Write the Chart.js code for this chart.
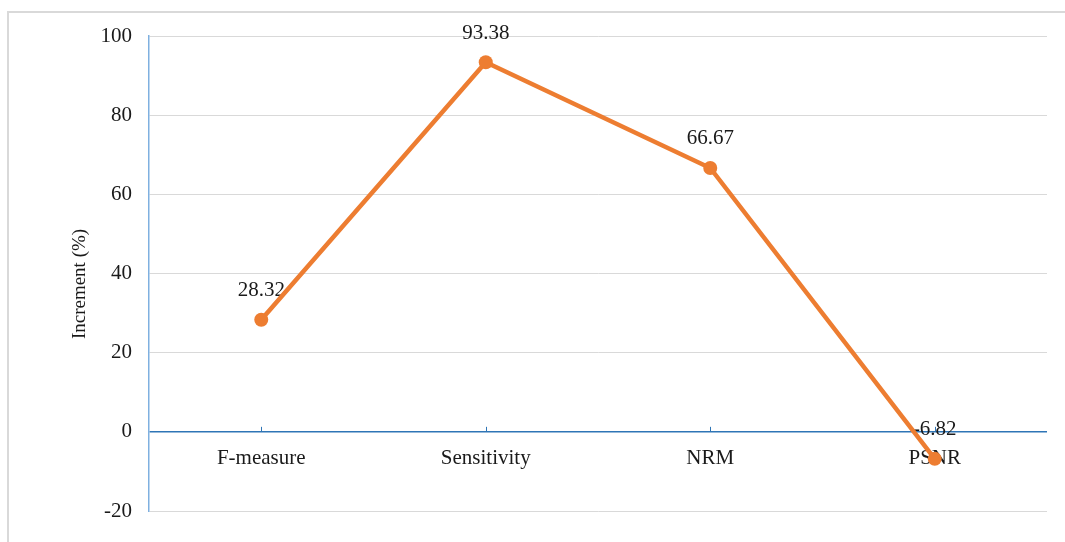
<!DOCTYPE html>
<html>
<head>
<meta charset="utf-8">
<script src="https://cdn.jsdelivr.net/npm/chart.js@4"></script>
<style>
  html, body { margin: 0; padding: 0; background: #ffffff; }
  #wrap { position: relative; width: 1065px; height: 542px; }
</style>
</head>
<body>
<div id="wrap"><canvas id="chart" width="1065" height="542"></canvas></div>
<script>
// Percentage increment per metric
const categories = ['F-measure', 'Sensitivity', 'NRM', 'PSNR'];
const increments = [28.32, 93.38, 66.67, -6.82];
const yMin = -20;
const yMax = 100;
const yStep = 20;
const yTitle = 'Increment (%)';

const FONT = '"Liberation Serif", "Times New Roman", serif';
const TEXT = '#1a1a1a';
const LINE = '#ed7d31';

const decorations = {
  id: 'decorations',
  beforeDraw(chart) {
    const ctx = chart.ctx;
    ctx.save();
    // outer frame
    ctx.strokeStyle = '#d9d9d9';
    ctx.lineWidth = 2;
    ctx.strokeRect(8, 12, 1200, 700);
    // vertical axis title
    ctx.fillStyle = TEXT;
    ctx.font = '19px ' + FONT;
    ctx.textAlign = 'center';
    ctx.textBaseline = 'middle';
    ctx.translate(80, 284);
    ctx.rotate(-Math.PI / 2);
    ctx.fillText(yTitle, 0, 0);
    ctx.restore();
  },
  beforeDatasetsDraw(chart) {
    const ctx = chart.ctx;
    const xs = chart.scales.x;
    const ys = chart.scales.y;
    const zeroY = ys.getPixelForValue(0);
    ctx.save();
    // tick marks on the zero line
    ctx.strokeStyle = '#2e75b6';
    ctx.lineWidth = 1;
    categories.forEach((c, i) => {
      const x = Math.round(xs.getPixelForValue(i)) + 0.5;
      ctx.beginPath();
      ctx.moveTo(x, zeroY - 5);
      ctx.lineTo(x, zeroY);
      ctx.stroke();
    });
    // category labels under the zero line
    ctx.fillStyle = TEXT;
    ctx.font = '21px ' + FONT;
    ctx.textAlign = 'center';
    ctx.textBaseline = 'middle';
    categories.forEach((c, i) => {
      ctx.fillText(c, xs.getPixelForValue(i), zeroY + 27);
    });
    // value labels above each point
    increments.forEach((v, i) => {
      const x = xs.getPixelForValue(i);
      const y = ys.getPixelForValue(v);
      ctx.fillText(v.toFixed(2), x, y - 29);
    });
    ctx.restore();
  }
};

new Chart(document.getElementById('chart'), {
  type: 'line',
  data: {
    labels: categories,
    datasets: [{
      data: increments,
      borderColor: LINE,
      backgroundColor: LINE,
      borderWidth: 4.5,
      pointRadius: 7,
      pointHoverRadius: 7,
      pointBackgroundColor: LINE,
      pointBorderColor: LINE,
      pointBorderWidth: 0,
      tension: 0,
      clip: false
    }]
  },
  options: {
    responsive: false,
    animation: false,
    events: [],
    layout: { padding: { left: 0, top: 36, right: 18, bottom: 31 } },
    plugins: { legend: { display: false }, tooltip: { enabled: false } },
    scales: {
      x: {
        display: false,
        offset: true
      },
      y: {
        min: yMin,
        max: yMax,
        afterFit(s) { s.width = 149; },
        ticks: {
          stepSize: yStep,
          padding: 17,
          color: TEXT,
          font: { family: FONT, size: 21 }
        },
        grid: {
          drawTicks: false,
          color: (c) => (c.tick && c.tick.value === 0) ? '#2e75b6' : '#d9d9d9',
          lineWidth: (c) => (c.tick && c.tick.value === 0) ? 1.5 : 1
        },
        border: { display: true, color: '#7fb0e0', width: 1.5 }
      }
    }
  },
  plugins: [decorations]
});
</script>
</body>
</html>
